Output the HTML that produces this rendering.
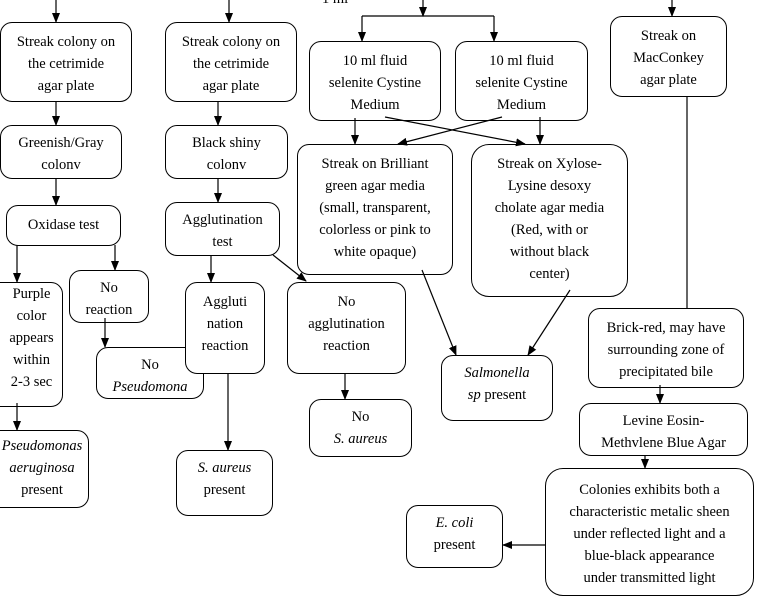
<!DOCTYPE html>
<html><head><style>
body{margin:0;width:769px;height:603px;background:#fff;position:relative;overflow:hidden;font-family:"Liberation Serif",serif;font-size:14.5px;color:#000}
.b{position:absolute;border:1px solid #000;border-radius:12px;text-align:center;line-height:22px;box-sizing:border-box;overflow:hidden;background:#fff;white-space:nowrap}
svg{position:absolute;left:0;top:0}
</style></head><body>
<div style="position:absolute;left:322px;top:-9px">1 ml</div>
<div class="b" style="left:0;top:22px;width:132px;height:80px;padding-top:8px">Streak colony on<br>the cetrimide<br>agar plate</div>
<div class="b" style="left:0;top:125px;width:122px;height:54px;padding-top:6px">Greenish/Gray<br>colonv</div>
<div class="b" style="left:6px;top:205px;width:115px;height:41px;padding-top:8px">Oxidase test</div>
<div class="b" style="left:-20px;top:282px;width:83px;height:125px;padding:0 0 0 20px">Purple<br>color<br>appears<br>within<br>2-3 sec</div>
<div class="b" style="left:69px;top:270px;width:80px;height:53px;padding-top:6px">No<br>reaction</div>
<div class="b" style="left:96px;top:347px;width:108px;height:52px;padding-top:6px">No<br><i>Pseudomona</i></div>
<div class="b" style="left:-30px;top:430px;width:119px;height:78px;padding:4px 0 0 25px"><i>Pseudomonas<br>aeruginosa</i><br>present</div>
<div class="b" style="left:165px;top:22px;width:132px;height:80px;padding-top:8px">Streak colony on<br>the cetrimide<br>agar plate</div>
<div class="b" style="left:165px;top:125px;width:123px;height:54px;padding-top:6px">Black shiny<br>colonv</div>
<div class="b" style="left:165px;top:202px;width:115px;height:54px;padding-top:6px">Agglutination<br>test</div>
<div class="b" style="left:185px;top:282px;width:80px;height:92px;padding-top:8px">Aggluti<br>nation<br>reaction</div>
<div class="b" style="left:287px;top:282px;width:119px;height:92px;padding-top:8px">No<br>agglutination<br>reaction</div>
<div class="b" style="left:309px;top:399px;width:103px;height:58px;padding-top:6px">No<br><i>S. aureus</i></div>
<div class="b" style="left:176px;top:450px;width:97px;height:66px;padding-top:6px"><i>S. aureus</i><br>present</div>
<div class="b" style="left:309px;top:41px;width:132px;height:80px;padding-top:8px">10 ml fluid<br>selenite Cystine<br>Medium</div>
<div class="b" style="left:455px;top:41px;width:133px;height:80px;padding-top:8px">10 ml fluid<br>selenite Cystine<br>Medium</div>
<div class="b" style="left:297px;top:144px;width:156px;height:131px;padding-top:8px">Streak on Brilliant<br>green agar media<br>(small, transparent,<br>colorless or pink to<br>white opaque)</div>
<div class="b" style="left:471px;top:144px;width:157px;height:153px;padding-top:8px;border-radius:18px">Streak on Xylose-<br>Lysine desoxy<br>cholate agar media<br>(Red, with or<br>without black<br>center)</div>
<div class="b" style="left:610px;top:16px;width:117px;height:81px;padding-top:8px">Streak on<br>MacConkey<br>agar plate</div>
<div class="b" style="left:441px;top:355px;width:112px;height:66px;padding-top:6px"><i>Salmonella<br>sp</i> present</div>
<div class="b" style="left:588px;top:308px;width:156px;height:80px;padding-top:8px">Brick-red, may have<br>surrounding zone of<br>precipitated bile</div>
<div class="b" style="left:579px;top:403px;width:169px;height:53px;padding-top:6px">Levine Eosin-<br>Methvlene Blue Agar</div>
<div class="b" style="left:545px;top:468px;width:209px;height:128px;padding-top:10px;border-radius:18px">Colonies exhibits both a<br>characteristic metalic sheen<br>under reflected light and a<br>blue-black appearance<br>under transmitted light</div>
<div class="b" style="left:406px;top:505px;width:97px;height:63px;padding-top:6px"><i>E. coli</i><br>present</div>
<svg width="769" height="603">
<defs><marker id="a" markerWidth="10" markerHeight="10" refX="9" refY="5" orient="auto" markerUnits="userSpaceOnUse"><path d="M0,1 L10,5 L0,9 z"/></marker></defs>
<g stroke="#000" stroke-width="1.2" fill="none" marker-end="url(#a)">
<line x1="56" y1="0" x2="56" y2="22"/><line x1="229" y1="0" x2="229" y2="22"/>
<line x1="56" y1="101" x2="56" y2="125"/><line x1="218" y1="101" x2="218" y2="125"/>
<line x1="56" y1="178" x2="56" y2="205"/><line x1="218" y1="178" x2="218" y2="202"/>
<line x1="17" y1="245" x2="17" y2="282"/><line x1="115" y1="245" x2="115" y2="270"/>
<line x1="105" y1="318" x2="105" y2="347"/><line x1="17" y1="403" x2="17" y2="430"/>
<line x1="211" y1="255" x2="211" y2="282"/><line x1="273" y1="255" x2="306" y2="281"/>
<line x1="228" y1="373" x2="228" y2="450"/><line x1="345" y1="373" x2="345" y2="399"/>
<line x1="423" y1="0" x2="423" y2="16"/>
<line x1="362" y1="16" x2="362" y2="41"/><line x1="494" y1="16" x2="494" y2="41"/>
<line x1="672" y1="0" x2="672" y2="16"/>
<line x1="355" y1="118" x2="355" y2="144"/><line x1="385" y1="117" x2="525" y2="144"/>
<line x1="540" y1="117" x2="540" y2="144"/><line x1="502" y1="117" x2="398" y2="144"/>
<line x1="422" y1="270" x2="456" y2="355"/><line x1="570" y1="290" x2="528" y2="355"/>
<line x1="660" y1="385" x2="660" y2="403"/><line x1="645" y1="455" x2="645" y2="468"/>
<line x1="545" y1="545" x2="503" y2="545"/>
</g>
<g stroke="#000" stroke-width="1.2">
<line x1="362" y1="16" x2="494" y2="16"/><line x1="687" y1="96" x2="687" y2="308"/>
</g>
</svg>
</body></html>
